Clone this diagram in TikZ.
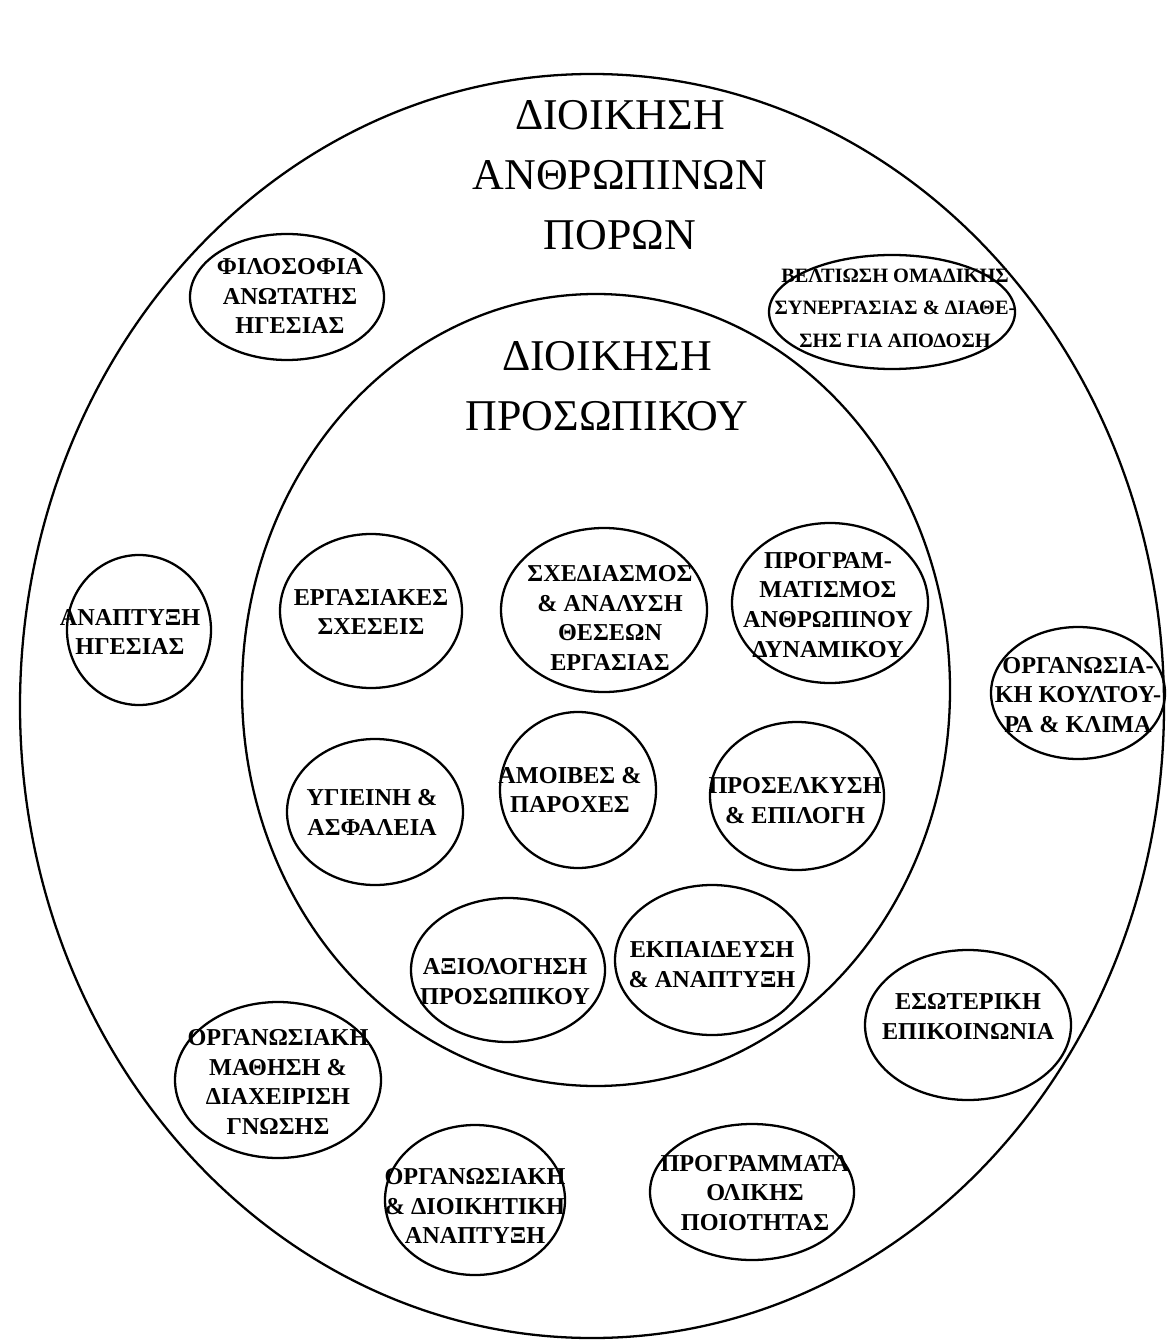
\documentclass[tikz,border=0pt]{standalone}
\usepackage{fontspec}
\setmainfont{Liberation Serif}
\usetikzlibrary{positioning}

\tikzset{
  rim/.style={line width=1.3pt},
  topic/.style={font=\fontsize{13.8}{17}\selectfont\bfseries, align=center, inner sep=0pt},
  smalltopic/.style={font=\fontsize{11.6}{18.5}\selectfont\bfseries, align=center, inner sep=0pt},
  heading/.style={font=\fontsize{25}{34}\selectfont, align=center, inner sep=0pt},
}

\begin{document}
\begin{tikzpicture}[x=0.02cm, y=-0.02cm]
    \useasboundingbox (0,0) rectangle (1168,1344);

    % big rings
    \draw[rim] (592,706) ellipse [x radius=572, y radius=632];
    \draw[rim] (596,690) ellipse [x radius=354, y radius=396];

    % headings
    \node[heading] (hrm) at (620,175) {ΔΙΟΙΚΗΣΗ\\ΑΝΘΡΩΠΙΝΩΝ\\ΠΟΡΩΝ};
    \node[heading] (staff) at (607,386) {ΔΙΟΙΚΗΣΗ\\ΠΡΟΣΩΠΙΚΟΥ};

    % inner ring topics
    \node[topic] (ergasiakes) at (371,612) {ΕΡΓΑΣΙΑΚΕΣ\\ΣΧΕΣΕΙΣ};
    \draw[rim] (371,611) ellipse [x radius=91, y radius=77];

    \node[topic] (sxediasmos) at (610,618) {ΣΧΕΔΙΑΣΜΟΣ\\\& ΑΝΑΛΥΣΗ\\ΘΕΣΕΩΝ\\ΕΡΓΑΣΙΑΣ};
    \draw[rim] (604,610) ellipse [x radius=103, y radius=82];

    \node[topic] (programmatismos) at (828,605) {ΠΡΟΓΡΑΜ-\\ΜΑΤΙΣΜΟΣ\\ΑΝΘΡΩΠΙΝΟΥ\\ΔΥΝΑΜΙΚΟΥ};
    \draw[rim] (830,603) ellipse [x radius=98, y radius=80];

    \node[topic] (ygieini) at (372,812) {ΥΓΙΕΙΝΗ \&\\ΑΣΦΑΛΕΙΑ};
    \draw[rim] (375,812) ellipse [x radius=88, y radius=73];

    \node[topic] (amoives) at (570,790) {ΑΜΟΙΒΕΣ \&\\ΠΑΡΟΧΕΣ};
    \draw[rim] (578,790) ellipse [x radius=78, y radius=78];

    \node[topic] (proselkysi) at (795,801) {ΠΡΟΣΕΛΚΥΣΗ\\\& ΕΠΙΛΟΓΗ};
    \draw[rim] (797,796) ellipse [x radius=87, y radius=74];

    \node[topic] (axiologisi) at (505,982) {ΑΞΙΟΛΟΓΗΣΗ\\ΠΡΟΣΩΠΙΚΟΥ};
    \draw[rim] (508,970) ellipse [x radius=97, y radius=72];

    \node[topic] (ekpaideysi) at (712,965) {ΕΚΠΑΙΔΕΥΣΗ\\\& ΑΝΑΠΤΥΞΗ};
    \draw[rim] (712,960) ellipse [x radius=97, y radius=75];

    % outer ring topics
    \node[topic] (filosofia) at (290,296) {ΦΙΛΟΣΟΦΙΑ\\ΑΝΩΤΑΤΗΣ\\ΗΓΕΣΙΑΣ};
    \draw[rim] (287,297) ellipse [x radius=97, y radius=63];

    \node[smalltopic] (veltiosi) at (895,308) {ΒΕΛΤΙΩΣΗ ΟΜΑΔΙΚΗΣ\\ΣΥΝΕΡΓΑΣΙΑΣ \& ΔΙΑΘΕ-\\ΣΗΣ ΓΙΑ ΑΠΟΔΟΣΗ};
    \draw[rim] (892,312) ellipse [x radius=123, y radius=57];

    \node[topic] (igesia) at (130,632) {ΑΝΑΠΤΥΞΗ\\ΗΓΕΣΙΑΣ};
    \draw[rim] (139,630) ellipse [x radius=72, y radius=75];

    \node[topic] (koultoura) at (1078,695) {ΟΡΓΑΝΩΣΙΑ-\\ΚΗ ΚΟΥΛΤΟΥ-\\ΡΑ \& ΚΛΙΜΑ};
    \draw[rim] (1078,693) ellipse [x radius=87, y radius=66];

    \node[topic] (epikoinonia) at (968,1017) {ΕΣΩΤΕΡΙΚΗ\\ΕΠΙΚΟΙΝΩΝΙΑ};
    \draw[rim] (968,1025) ellipse [x radius=103, y radius=75];

    \node[topic] (mathisi) at (278,1082) {ΟΡΓΑΝΩΣΙΑΚΗ\\ΜΑΘΗΣΗ \&\\ΔΙΑΧΕΙΡΙΣΗ\\ΓΝΩΣΗΣ};
    \draw[rim] (278,1080) ellipse [x radius=103, y radius=78];

    \node[topic] (anaptyxi) at (475,1206) {ΟΡΓΑΝΩΣΙΑΚΗ\\\& ΔΙΟΙΚΗΤΙΚΗ\\ΑΝΑΠΤΥΞΗ};
    \draw[rim] (475,1200) ellipse [x radius=90, y radius=75];

    \node[topic] (poiotita) at (755,1193) {ΠΡΟΓΡΑΜΜΑΤΑ\\ΟΛΙΚΗΣ\\ΠΟΙΟΤΗΤΑΣ};
    \draw[rim] (752,1192) ellipse [x radius=102, y radius=68];
\end{tikzpicture}
\end{document}
